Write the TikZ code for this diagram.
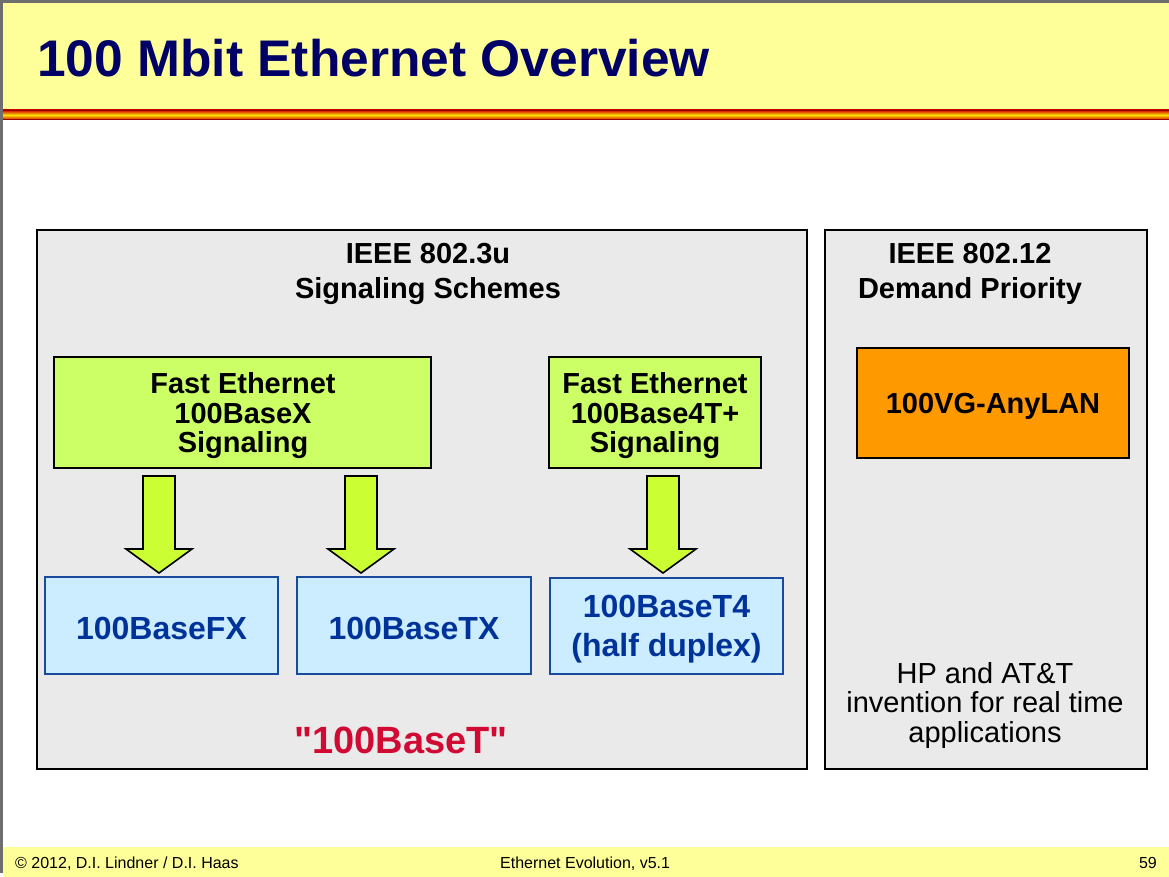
\documentclass[tikz,border=0pt]{standalone}
\usepackage{fontspec}
\setmainfont{Liberation Sans}
\newfontfamily\rawfont{Liberation Sans}[Ligatures=TeXOff]
\definecolor{bandyellow}{HTML}{FFFF99}
\definecolor{titlenavy}{HTML}{000066}
\definecolor{framegray}{HTML}{6E6E6E}
\definecolor{panelgray}{HTML}{EAEAEA}
\definecolor{boxgreen}{HTML}{CCFF66}
\definecolor{arrowgreen}{HTML}{CCFF33}
\definecolor{boxblue}{HTML}{CCECFF}
\definecolor{boxblueborder}{HTML}{1A4A9E}
\definecolor{textblue}{HTML}{003399}
\definecolor{textred}{HTML}{D10A34}
\definecolor{boxorange}{HTML}{FF9900}
\definecolor{stripered}{HTML}{D40000}
\definecolor{stripeyellow}{HTML}{FFE000}
\begin{document}
\begin{tikzpicture}[x=1pt,y=-1pt,
  bigbox/.style={draw=black,line width=2.2pt,fill=panelgray,inner sep=0pt},
  greenbox/.style={draw=black,line width=2pt,fill=boxgreen,inner sep=0pt},
  greentext/.style={align=center,inner sep=0pt,font=\fontsize{29}{29.5}\selectfont\bfseries},
  bluebox/.style={draw=boxblueborder,line width=1.2pt,fill=boxblue,inner sep=0pt},
  bluetext/.style={align=center,inner sep=0pt,text=textblue,font=\fontsize{32}{39.5}\selectfont\bfseries},
  orangebox/.style={draw=black,line width=2pt,fill=boxorange,inner sep=0pt},
  boldtext/.style={align=center,inner sep=0pt,font=\fontsize{29}{30}\selectfont\bfseries},
  headtext/.style={align=center,inner sep=0pt,font=\fontsize{29}{35}\selectfont\bfseries},
  plaintext/.style={align=center,inner sep=0pt,font=\fontsize{29}{29.5}\selectfont},
  foottext/.style={inner sep=0pt,font=\fontsize{16}{18}\selectfont},
  blockarrow/.style={draw=black,line width=1.6pt,fill=arrowgreen,line join=miter}
]
\useasboundingbox (0,0) rectangle (1169,877);
% frame and bands
\fill[white] (0,0) rectangle (1169,877);
\fill[framegray] (0,0) rectangle (1169,3);
\fill[framegray] (0,0) rectangle (3,873);
\fill[bandyellow] (3,3) rectangle (1169,110);
\shade[top color=stripered, bottom color=stripered, middle color=stripeyellow] (3,110) rectangle (1169,120);
\draw[stripered!70!black, line width=0.6pt] (3,110.3) -- (1169,110.3);
\draw[stripered!70!black, line width=0.6pt] (3,119.7) -- (1169,119.7);
\fill[bandyellow] (3,847) rectangle (1169,877);

% title
\node[anchor=base west, inner sep=0pt, text=titlenavy,
  font=\fontsize{51.5}{60}\selectfont\bfseries] (title) at (37,77) {100 Mbit Ethernet Overview};

% panels
\node[bigbox, minimum width=770pt, minimum height=539pt] (left) at (422,499.5) {};
\node[bigbox, minimum width=322pt, minimum height=539pt] (right) at (986,499.5) {};

\node[headtext] (lhead) at (428,274) {IEEE 802.3u\\Signaling Schemes};
\node[headtext] (rhead) at (970,274) {IEEE 802.12\\Demand Priority};

% green boxes
\node[greenbox, minimum width=377pt, minimum height=111pt] (gx) at (242.5,412.5) {};
\node[greentext] (gxt) at (243,416) {Fast Ethernet\\100BaseX\\Signaling};
\node[greenbox, minimum width=212pt, minimum height=111pt] (g4) at (655,412.5) {};
\node[greentext] (g4t) at (655,416) {Fast Ethernet\\100Base4T+\\Signaling};

% blue boxes
\node[bluebox, minimum width=233pt, minimum height=97pt] (fx) at (161.5,625.5) {};
\node[bluetext] (fxt) at (161.5,628) {100BaseFX};
\node[bluebox, minimum width=234pt, minimum height=97pt] (tx) at (414,625.5) {};
\node[bluetext] (txt) at (414,628) {100BaseTX};
\node[bluebox, minimum width=233pt, minimum height=96pt] (t4) at (666.5,626) {};
\node[bluetext] (t4t) at (666.5,629) {100BaseT4\\(half duplex)};

% block arrows
\foreach \cx in {159,361,663}{
  \draw[blockarrow] (\cx-16,476) -- (\cx+16,476) -- (\cx+16,549) -- (\cx+33,549)
    -- (\cx,573) -- (\cx-33,549) -- (\cx-16,549) -- cycle;
}

\node[inner sep=0pt, text=textred, font=\rawfont\fontsize{38}{40}\selectfont\bfseries] (bt) at (401,740)
  {"100BaseT"};

% right panel
\node[orangebox, minimum width=272pt, minimum height=110pt] (vg) at (993,403) {};
\node[boldtext] (vgt) at (993,406) {100VG-AnyLAN};
\node[plaintext] (hp) at (985,705) {HP and AT\&T\\invention for real time\\applications};

% footer
\node[foottext, anchor=base west] (copy) at (15,868) {© 2012, D.I. Lindner / D.I. Haas};
\node[foottext, anchor=base west] (evo) at (500,868) {Ethernet Evolution, v5.1};
\node[foottext, anchor=base east] (page) at (1157,868) {59};
\end{tikzpicture}
\end{document}
